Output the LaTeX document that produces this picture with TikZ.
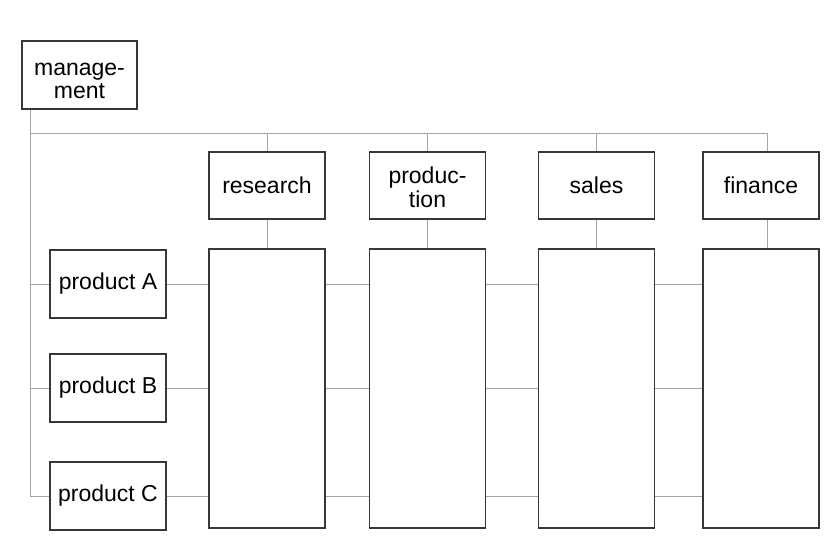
\documentclass[tikz,border=0pt]{standalone}
\usepackage{fontspec}
\setmainfont{Liberation Sans}
\usetikzlibrary{backgrounds}
\begin{document}
\begin{tikzpicture}[x=1pt,y=-1pt,
  box/.style={draw=black!78, line width=1.2pt, fill=white, inner sep=0pt, align=center,
              font=\fontsize{23}{23.5}\selectfont, minimum width=116pt, minimum height=68pt},
  col/.style={draw=black!78, line width=1.2pt, fill=white, minimum width=116pt, minimum height=279pt, inner sep=0pt},
  conn/.style={draw=black!35, line width=0.9pt}]
\useasboundingbox (0,0) rectangle (840,555);
% top boxes
\node[box, minimum width=115pt] (mgmt) at (79.5,75) {\rule{0pt}{24pt}manage-\\ment};
\node[box, minimum height=67pt] (res) at (267,185.5) {research};
\node[box, minimum height=67pt] (prod) at (427.5,185.5) {\rule{0pt}{20pt}produc-\\tion};
\node[box, minimum height=67pt] (sales) at (596.5,185.5) {sales};
\node[box, minimum height=67pt] (fin) at (761,185.5) {finance};
% columns
\node[col] (rescol) at (267,388.5) {};
\node[col] (prodcol) at (427.5,388.5) {};
\node[col] (salescol) at (596.5,388.5) {};
\node[col] (fincol) at (761,388.5) {};
% products
\node[box] (pA) at (108,284) {product A};
\node[box] (pB) at (108,388) {product B};
\node[box] (pC) at (108,496) {product C};
% connectors
\coordinate (corner) at (30,133);
\coordinate (fx) at (767,133);
\begin{scope}[on background layer]
\fill[white] (0,0) rectangle (840,555);
\draw[conn] (mgmt.south -| corner) -- (corner |- pC) -- (fincol.west |- pC);
\draw[conn] (corner) -- (fx) -- (fx |- fin.north);
\draw[conn] (fx |- fin.south) -- (fx |- fincol.north);
\draw[conn] (res.north |- corner) -- (res.north);
\draw[conn] (prod.north |- corner) -- (prod.north);
\draw[conn] (sales.north |- corner) -- (sales.north);
\draw[conn] (res.south) -- (rescol.north);
\draw[conn] (prod.south) -- (prodcol.north);
\draw[conn] (sales.south) -- (salescol.north);
\draw[conn] (corner |- pA) -- (fincol.west |- pA);
\draw[conn] (corner |- pB) -- (fincol.west |- pB);
\end{scope}
\end{tikzpicture}
\end{document}
